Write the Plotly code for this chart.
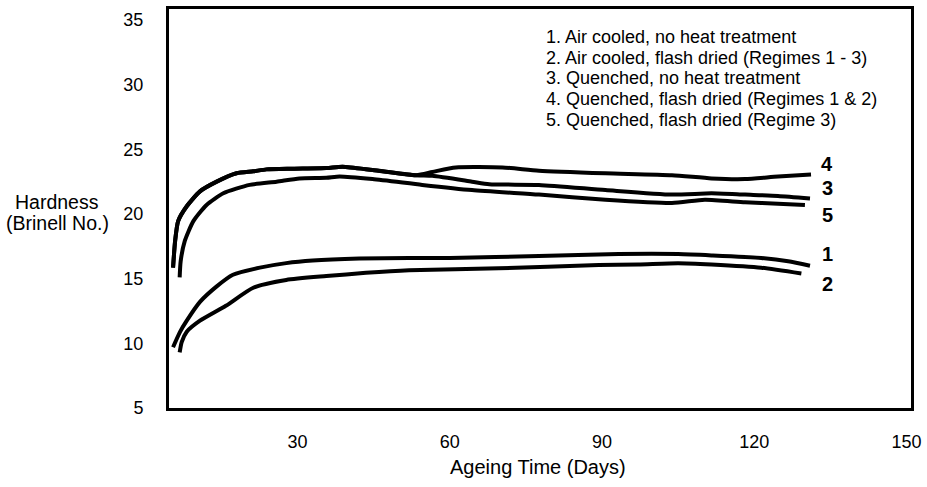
import plotly.graph_objects as go

# ---- data ----
series_names = [
    "1. Air cooled, no heat treatment",
    "2. Air cooled, flash dried (Regimes 1 - 3)",
    "3. Quenched, no heat treatment",
    "4. Quenched, flash dried (Regimes 1 & 2)",
    "5. Quenched, flash dried (Regime 3)",
]
curve_labels = ["1", "2", "3", "4", "5"]
label_values = [16.9, 14.6, 22.0, 23.9, 19.9]
label_day = 134.4

days_1 = [5.5, 6.9, 8.2, 10.8, 14.1, 17.3, 22.6, 27.8, 33.0, 42.2, 52.0, 60.0, 77.6, 93.3, 105.0, 111.6, 121.4, 126.7, 131.0]
hard_1 = [9.7, 10.9, 11.75, 13.2, 14.4, 15.3, 15.85, 16.2, 16.4, 16.55, 16.6, 16.6, 16.75, 16.9, 16.9, 16.8, 16.6, 16.35, 16.0]

days_2 = [6.8, 7.2, 8.2, 10.8, 15.9, 21.3, 27.8, 35.7, 43.5, 52.0, 69.7, 89.4, 97.2, 105.0, 111.6, 121.4, 129.3]
hard_2 = [9.3, 10.1, 10.9, 11.75, 12.9, 14.3, 14.9, 15.2, 15.45, 15.65, 15.8, 16.05, 16.1, 16.2, 16.1, 15.85, 15.4]

days_3 = [5.5, 5.9, 6.5, 8.2, 10.8, 14.1, 18.0, 21.3, 23.9, 29.1, 35.7, 38.9, 44.8, 53.4, 56.6, 64.4, 67.8, 77.6, 90.7, 103.8, 111.6, 118.2, 124.7, 131.0]
hard_3 = [15.85, 17.9, 19.45, 20.6, 21.75, 22.5, 23.15, 23.3, 23.45, 23.5, 23.55, 23.65, 23.4, 23.0, 22.95, 22.5, 22.3, 22.25, 21.85, 21.5, 21.6, 21.5, 21.4, 21.2]

days_4 = [5.5, 5.9, 6.5, 8.2, 10.8, 14.1, 18.0, 21.3, 23.9, 29.1, 35.7, 38.9, 44.8, 53.4, 56.6, 61.2, 70.4, 77.6, 90.7, 103.8, 111.6, 118.2, 124.7, 131.2]
hard_4 = [15.85, 17.9, 19.45, 20.6, 21.75, 22.5, 23.15, 23.3, 23.45, 23.5, 23.55, 23.65, 23.4, 23.0, 23.25, 23.6, 23.6, 23.35, 23.15, 23.0, 22.75, 22.7, 22.9, 23.05]

days_5 = [6.8, 7.0, 7.8, 9.5, 12.1, 15.4, 20.6, 25.9, 30.4, 35.7, 38.3, 44.8, 54.6, 64.4, 77.6, 90.7, 103.8, 110.3, 118.2, 124.7, 130.0]
hard_5 = [15.1, 16.35, 17.9, 19.45, 20.7, 21.6, 22.25, 22.5, 22.75, 22.8, 22.9, 22.7, 22.25, 21.85, 21.5, 21.1, 20.85, 21.1, 20.9, 20.8, 20.7]

x_ticks = [30, 60, 90, 120, 150]
y_ticks = [5, 10, 15, 20, 25, 30, 35]
x_title = "Ageing Time (Days)"
y_title_lines = ["Hardness", "(Brinell No.)"]

FONT = "Liberation Sans, Arial, Helvetica, sans-serif"

fig = go.Figure()
all_days = [days_1, days_2, days_3, days_4, days_5]
all_hard = [hard_1, hard_2, hard_3, hard_4, hard_5]
for name, d, h in zip(series_names, all_days, all_hard):
    fig.add_trace(go.Scatter(
        x=d, y=h, mode="lines", name=name,
        line=dict(color="black", width=4, shape="spline", smoothing=0.6),
        showlegend=False, hoverinfo="skip",
    ))

# curve number labels at right ends
for lab, val in zip(curve_labels, label_values):
    fig.add_annotation(x=label_day, y=val, xref="x", yref="y", text=f"<b>{lab}</b>",
                       showarrow=False, font=dict(family=FONT, size=20, color="black"),
                       xanchor="center", yanchor="middle")

# legend text block (one annotation per line)
legend_y = [0.930, 0.878, 0.826, 0.774, 0.721]
for name, yy in zip(series_names, legend_y):
    fig.add_annotation(x=0.506, y=yy, xref="paper", yref="paper", text=name,
                       showarrow=False, xanchor="left", yanchor="middle",
                       font=dict(family=FONT, size=18, color="black"))

# axis titles
for txt, yy in zip(y_title_lines, [0.517, 0.463]):
    fig.add_annotation(x=-0.1505, y=yy, xref="paper", yref="paper", text=txt,
                       showarrow=False, xanchor="center", yanchor="middle",
                       font=dict(family=FONT, size=19.5, color="black"))
fig.add_annotation(x=0.497, y=-0.149, xref="paper", yref="paper", text=x_title,
                   showarrow=False, xanchor="center", yanchor="middle",
                   font=dict(family=FONT, size=20, color="black"))

fig.update_xaxes(range=[4.7, 150.9], tickvals=x_ticks, ticktext=[str(v) for v in x_ticks],
                 showgrid=False, zeroline=False, showline=True, linecolor="black",
                 linewidth=3, mirror=True, ticks="", ticklabelstandoff=15,
                 tickfont=dict(family=FONT, size=18, color="black"))
fig.update_yaxes(range=[5.0, 35.85], tickvals=y_ticks, ticktext=[str(v) for v in y_ticks],
                 showgrid=False, zeroline=False, showline=True, linecolor="black",
                 linewidth=3, mirror=True, ticks="", ticklabelstandoff=19,
                 tickfont=dict(family=FONT, size=18, color="black"))

fig.update_layout(width=927, height=487, margin=dict(l=169, r=14, t=6, b=79),
                  plot_bgcolor="white", paper_bgcolor="white", showlegend=False)

fig.write_html("out.html", config={"displayModeBar": False},
               post_script="document.body.style.margin='0';")
